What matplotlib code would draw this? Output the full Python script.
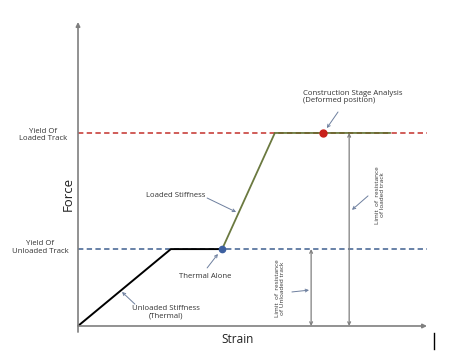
import matplotlib
matplotlib.use('Agg')
from matplotlib.pyplot import figure

# bilinear track resistance model (arbitrary units)
unloaded_strain = [0.0, 2.66, 4.13]
unloaded_force = [0.0, 2.53, 2.53]
loaded_strain = [4.13, 5.64, 8.94]
loaded_force = [2.53, 6.35, 6.35]
yield_unloaded = 2.53
yield_loaded = 6.35
thermal_alone = (4.13, 2.53)
csa_point = (7.02, 6.35)
limit_unloaded_x = 6.68
limit_loaded_x = 7.77
axis_end_x = 10.0
axis_end_y = 10.0

fig = figure(figsize=(4.59, 3.55), dpi=100)
ax = fig.add_axes([0, 0, 1, 1])
ax.set_xlim(-2.235, 10.917)
ax.set_ylim(-0.954, 10.724)
ax.axis('off')

font = ['Open Sans', 'DejaVu Sans']
small = dict(fontsize=5.6, color='#333333', family=font)
grey = '#7f7f7f'
note = '#6d7f9e'

# axes with arrow heads
ax.annotate('', xy=(axis_end_x, 0), xytext=(0, 0),
            arrowprops=dict(arrowstyle='-|>', color=grey, lw=1.2, mutation_scale=6, shrinkA=0, shrinkB=0))
ax.annotate('', xy=(0, axis_end_y), xytext=(0, -0.2),
            arrowprops=dict(arrowstyle='-|>', color=grey, lw=1.2, mutation_scale=6, shrinkA=0, shrinkB=0))

# yield levels
ax.plot([0, axis_end_x], [yield_loaded, yield_loaded], ls=(0, (3.5, 2.2)), color='#c4302b', lw=1.1)
ax.plot([0, axis_end_x], [yield_unloaded, yield_unloaded], ls=(0, (3.5, 2.2)), color='#3f5f8f', lw=1.1)

# stiffness curves
ax.plot(unloaded_strain, unloaded_force, color='black', lw=1.4, solid_capstyle='butt')
ax.plot(loaded_strain, loaded_force, color='#5b6b2b', lw=1.3, alpha=0.9)
ax.plot(*thermal_alone, 'o', color='#3d60a0', ms=4.5)
ax.plot(*csa_point, 'o', color='#c8201a', ms=5)

# resistance limits
dbl = dict(arrowstyle='<->', color=grey, lw=0.9, mutation_scale=5, shrinkA=0, shrinkB=0)
ax.annotate('', xy=(limit_unloaded_x, yield_unloaded), xytext=(limit_unloaded_x, 0), arrowprops=dbl)
ax.annotate('', xy=(limit_loaded_x, yield_loaded), xytext=(limit_loaded_x, 0), arrowprops=dbl)

# axis titles
ax.text(-0.29, 4.34, 'Force', rotation=90, ha='center', va='center', fontsize=9.5, color='#222222', family=font)
ax.text(4.56, -0.43, 'Strain', ha='center', va='center', fontsize=8.5, color='#222222', family=font)
ax.text(-1.0, 6.28, 'Yield Of\nLoaded Track', ha='center', va='center', linespacing=1.15, **small)
ax.text(-1.09, 2.57, 'Yield Of\nUnloaded Track', ha='center', va='center', linespacing=1.15, **small)

pointer = dict(arrowstyle='->', color=note, lw=0.7, mutation_scale=5, shrinkA=0, shrinkB=0)
ax.text(6.45, 7.53, 'Construction Stage Analysis\n(Deformed position)', ha='left', va='center',
        linespacing=1.15, **small)
ax.annotate('', xy=(7.13, 6.51), xytext=(7.45, 7.04), arrowprops=pointer)

ax.text(3.64, 4.28, 'Loaded Stiffness', ha='right', va='center', **small)
ax.annotate('', xy=(4.53, 3.75), xytext=(3.70, 4.21), arrowprops=pointer)

ax.text(3.64, 1.62, 'Thermal Alone', ha='center', va='center', **small)
ax.annotate('', xy=(4.01, 2.37), xytext=(3.70, 1.91), arrowprops=pointer)

ax.text(2.52, 0.46, 'Unloaded Stiffness\n(Thermal)', ha='center', va='center', linespacing=1.15, **small)
ax.annotate('', xy=(1.26, 1.12), xytext=(1.63, 0.72), arrowprops=pointer)

ax.text(5.79, 1.25, 'Limit  of  resistance\nof Unloaded track', rotation=90, ha='center', va='center',
        linespacing=1.1, fontsize=4.6, color='#333333', family=font)
ax.annotate('', xy=(6.62, 1.18), xytext=(6.13, 1.12), arrowprops=pointer)

ax.text(8.65, 4.31, 'Limit  of  resistance\nof loaded track', rotation=90, ha='center', va='center',
        linespacing=1.1, fontsize=4.6, color='#333333', family=font)
ax.annotate('', xy=(7.85, 3.82), xytext=(8.31, 4.28), arrowprops=pointer)

# text cursor left in the source picture
ax.plot([10.2, 10.2], [-0.23, -0.76], color='black', lw=1.0)

fig.savefig('out.png', dpi=100)
